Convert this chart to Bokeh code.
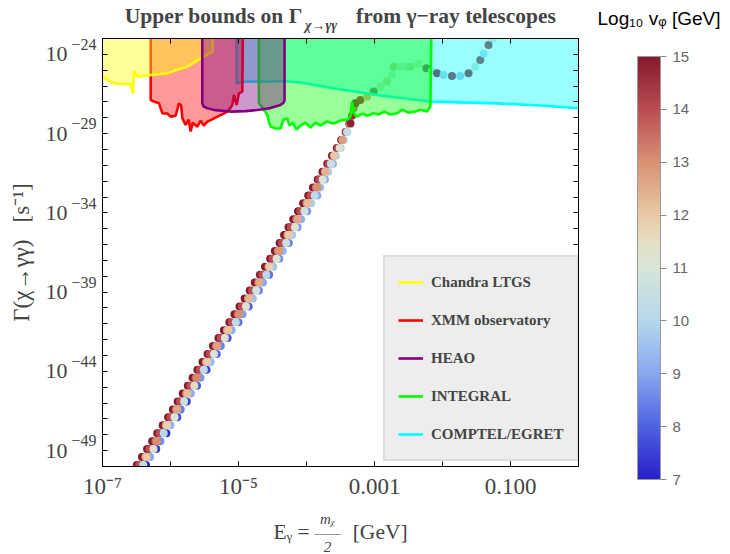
import numpy as np
from bokeh.plotting import figure
from bokeh.models import (ColumnDataSource, LinearColorMapper, FixedTicker, LogAxis, LinearAxis,
                          Range1d, LinearScale, Legend, LegendItem, CustomJSTickFormatter, ColorBar)
from bokeh.embed import file_html
from bokeh.resources import INLINE
from bokeh.transform import transform

# ---------------- data (log10 values) ----------------
# scan points: log10(E_gamma/GeV), log10(Gamma/s^-1), log10(v_phi/GeV)
y_fine = [-50.4, -49.9, -49.4, -48.9, -48.4, -47.9, -47.4, -46.9, -46.4, -45.9, -45.4, -44.9,
          -44.4, -43.9, -43.4, -42.9, -42.4, -41.9, -41.4, -40.9, -40.4, -39.9, -39.4, -38.9,
          -38.4, -37.9, -37.4, -36.9, -36.4, -35.9, -35.4, -34.9, -34.4, -33.9, -33.4, -32.9,
          -32.4, -31.9, -31.4, -30.9, -30.4, -29.9, -29.4, -28.9, -28.4]
y_even = [-50.4, -49.4, -48.4, -47.4, -46.4, -45.4, -44.4, -43.4, -42.4, -41.4, -40.4, -39.4,
          -38.4, -37.4, -36.4, -35.4, -34.4, -33.4, -32.4, -31.4, -30.4, -29.4, -28.4]
y_odd = [-49.9, -48.9, -47.9, -46.9, -45.9, -44.9, -43.9, -42.9, -41.9, -40.9, -39.9, -38.9,
         -37.9, -36.9, -35.9, -34.9, -33.9, -32.9, -31.9, -30.9, -29.9, -28.9]

v15_logE = [-6.57, -6.495, -6.42, -6.345, -6.27, -6.195, -6.115, -6.035, -5.965, -5.895, -5.82,
            -5.745, -5.675, -5.605, -5.53, -5.455, -5.375, -5.295, -5.215, -5.135, -5.06, -4.985,
            -4.91, -4.835, -4.76, -4.685, -4.61, -4.535, -4.465, -4.395, -4.33, -4.265, -4.195,
            -4.125, -4.05, -3.975, -3.905, -3.835, -3.765, -3.695, -3.625, -3.555, -3.49, -3.425, -3.37]
grpA_logE = [-6.46, -6.31, -6.16, -6.00, -5.86, -5.71, -5.57, -5.42, -5.26, -5.10, -4.95, -4.80,
             -4.65, -4.50, -4.36, -4.23, -4.09, -3.94, -3.81, -3.67, -3.54, -3.42]
grpS_logE = [-6.52, -6.37, -6.22, -6.07, -5.92, -5.77, -5.63, -5.48, -5.33, -5.17, -5.01, -4.86,
             -4.71, -4.56, -4.42, -4.28, -4.15, -4.00, -3.86, -3.73, -3.60, -3.47, -3.36]
grpB_logE = [-6.50, -6.35, -6.20, -6.05, -5.90, -5.75, -5.61, -5.46, -5.31, -5.15, -4.99, -4.84,
             -4.69, -4.54, -4.40, -4.26, -4.13, -3.98, -3.84, -3.72, -3.59, -3.47, -3.36]
grpC_logE = [-6.40, -6.25, -6.10, -5.94, -5.80, -5.65, -5.51, -5.36, -5.20, -5.04, -4.89, -4.74,
             -4.59, -4.44, -4.30, -4.17, -4.03, -3.88, -3.76, -3.64, -3.51, -3.40]
grpD_logE = [-6.45, -6.30, -6.15, -6.00, -5.85, -5.70, -5.56, -5.41, -5.26, -5.10, -4.94, -4.79,
             -4.64, -4.49, -4.35, -4.21, -4.08, -3.93, -3.80, -3.68, -3.57, -3.45, -3.35]
grpE_logE = [-6.36, -6.21, -6.06, -5.90, -5.76, -5.61, -5.47, -5.32, -5.16, -5.00, -4.85, -4.70,
             -4.55, -4.40, -4.26, -4.13, -3.99, -3.84, -3.73, -3.61, -3.50, -3.40]
grpA_v = [14.0] * 22
grpS_v = [13.3, 13.0, 13.5, 12.9, 13.4, 13.1, 13.6, 13.0, 13.3, 12.8, 13.5, 13.1, 13.4, 13.0,
          13.2, 12.9, 13.5, 13.1, 13.3, 13.0, 13.4, 13.2, 13.6]
grpB_v = [12.8, 12.0, 13.0, 11.8, 12.6, 12.2, 13.1, 11.9, 12.7, 12.1, 13.0, 12.3, 12.5, 11.8,
          12.9, 12.0, 12.6, 12.2, 13.0, 12.4, 12.0, 12.8, 12.3]
grpC_v = [10.4, 11.3, 10.0, 11.0, 10.6, 11.5, 10.2, 10.9, 11.2, 10.3, 11.4, 10.7, 10.1, 11.1,
          10.5, 11.3, 10.8, 10.2, 11.0, 10.6, 11.2, 10.4]
grpD_v = [8.2, 9.0, 8.6, 9.3, 8.4, 9.1, 8.8, 9.4, 8.5, 9.2, 8.9, 9.5, 9.0, 9.6, 9.3, 9.7, 9.2,
          9.8, 9.5, 9.9, 9.6, 10.0, 9.8]
grpE_v = [7.1, 7.4, 7.2, 7.7, 7.5, 7.9, 7.6, 8.1, 7.8, 8.3, 8.0, 8.5, 8.2, 8.7, 8.5, 8.9, 8.8,
          9.1, 9.0, 9.3, 9.2, 9.5]

top_logE = [-3.354, -3.33, -3.305, -3.28, -3.207, -3.109, -3.012, -2.913, -2.815, -2.742, -2.718,
            -2.62, -2.546, -2.473, -2.351, -2.238, -2.157, -2.081, -1.984, -1.861, -1.739, -1.617,
            -1.518, -1.445, -1.396, -1.323, -1.258, -1.22]
top_logG = [-28.35, -27.88, -27.40, -27.09, -26.88, -26.67, -26.35, -26.04, -25.72, -25.30, -24.78,
            -24.78, -24.78, -24.78, -24.61, -24.88, -25.05, -25.20, -25.30, -25.36, -25.36, -25.20,
            -24.78, -24.35, -23.94, -23.41, -22.99, -22.6]
top_v = [14.8, 14.5, 13.5, 14.8, 14.5, 12.5, 14.5, 11.5, 12.0, 11.0, 12.5, 11.5, 11.0, 12.0,
         11.5, 14.8, 10.5, 15.0, 9.8, 14.8, 9.5, 14.8, 10.5, 14.5, 10.0, 14.5, 11.0, 15.0]

# telescope bounds: boundary curves (log10 E, log10 Gamma); regions lie above them
chandra_logE = [-7.0, -6.907, -6.83, -6.731, -6.584, -6.555, -6.533, -6.486, -6.291, -6.046,
                -5.894, -5.752, -5.557, -5.38, -5.38]
chandra_logG = [-25.41, -25.66, -25.83, -25.87, -25.87, -26.46, -25.05, -25.41, -25.30, -25.20,
                -24.96, -24.78, -24.25, -23.83, -20.0]
xmm_logE = [-6.291, -6.291, -6.242, -6.169, -6.119, -6.046, -5.997, -5.924, -5.875, -5.843,
            -5.825, -5.777, -5.733, -5.703, -5.674, -5.605, -5.557, -5.512, -5.458, -5.395,
            -5.311, -5.248, -5.164, -5.116, -5.091, -5.068, -5.028, -4.994, -4.944, -4.930]
xmm_logG = [-20.0, -26.88, -26.98, -27.09, -27.72, -27.74, -27.93, -27.87, -27.09, -27.23,
            -28.04, -28.45, -28.12, -28.87, -28.31, -28.56, -28.18, -28.50, -28.24, -28.12,
            -27.93, -27.80, -27.61, -27.36, -27.19, -26.56, -27.19, -26.46, -26.35, -20.0]
heao_logE = [-5.532, -5.532, -5.512, -5.458, -5.336, -5.116, -4.896, -4.724, -4.529, -4.382,
             -4.338, -4.323, -4.323]
heao_logG = [-20.0, -27.09, -27.30, -27.40, -27.52, -27.61, -27.58, -27.51, -27.39, -27.19,
             -27.05, -26.88, -20.0]
integral_logE = [-4.700, -4.700, -4.675, -4.627, -4.577, -4.554, -4.529, -4.455, -4.382, -4.338,
                 -4.283, -4.250, -4.206, -4.147, -4.088, -4.015, -3.941, -3.868, -3.795, -3.706,
                 -3.604, -3.501, -3.398, -3.354, -3.329, -3.303, -3.256, -3.178, -3.104, -3.012,
                 -2.943, -2.855, -2.767, -2.668, -2.590, -2.502, -2.399, -2.326, -2.228, -2.179, -2.154]
integral_logG = [-20.0, -27.09, -27.19, -27.49, -27.82, -28.24, -28.56, -28.68, -28.67, -28.12,
                 -28.04, -28.50, -28.31, -28.75, -28.50, -28.31, -28.62, -28.31, -28.50, -28.24,
                 -28.37, -28.18, -28.12, -27.93, -26.98, -27.74, -27.93, -27.74, -27.87, -27.72,
                 -27.80, -27.61, -27.80, -27.72, -27.49, -27.68, -27.61, -27.49, -27.61, -27.30, -20.0]
comptel_logE = [-5.028, -5.028, -4.925, -4.577, -4.338, -4.088, -3.604, -2.913, -2.179, -1.200,
                -0.564, 0.0, 0.1]
comptel_logG = [-20.0, -25.83, -25.72, -25.72, -25.68, -25.78, -26.14, -26.60, -26.98, -27.09,
                -27.23, -27.40, -27.45]

telescope_names = ["Chandra LTGS", "XMM observatory", "HEAO", "INTEGRAL", "COMPTEL/EGRET"]

# tick labels
x_label_exps = [-7, -5, -3, -1]
x_label_text = ["10\u207b\u2077", "10\u207b\u2075", "0.001", "0.100"]
y_tick_exps = [-24, -29, -34, -39, -44, -49]
cbar_ticks = [7, 8, 9, 10, 11, 12, 13, 14, 15]

NB = "\u00a0"
title_text = "Upper bounds on \u0393" + NB * 10 + "from \u03b3\u2212ray telescopes"
title_sub = "\u03c7\u2192\u03b3\u03b3"
x_title = "E\u1d67 =" + NB * 8 + "[GeV]"
x_title_frac = "m\u1d6a\n\u2014\u2014\n2"
y_title = "\u0393(\u03c7\u2192\u03b3\u03b3)" + NB * 3 + "[s\u207b\u00b9]"
cbar_title = "Log\u2081\u2080 v\u1d69 [GeV]\n" + NB

# horizontal anchors (log10 E) of the subscript of the title and of the fraction
TITLE_SUB_AT = -3.787
FRAC_AT = -3.691

# ---------------- styling ----------------
SERIF = "Liberation Serif"
SANS = "Liberation Sans"


def build_palette(stops, n=256):
    vals = np.array([s[0] for s in stops], float)
    cols = np.array([[int(c[i:i + 2], 16) for i in (1, 3, 5)] for _, c in stops], float)
    t = np.linspace(vals[0], vals[-1], n)
    ch = [np.interp(t, vals, cols[:, k]) for k in range(3)]
    return ["#%02x%02x%02x" % (int(round(a)), int(round(b)), int(round(c))) for a, b, c in zip(*ch)]


palette = build_palette([(7, "#2a1fc9"), (8, "#4f63e0"), (9, "#87a8f0"), (10, "#b5d8ea"),
                         (11, "#d8e5da"), (11.5, "#e4dfc5"), (12, "#e8caa4"), (13, "#d99274"),
                         (14, "#bb4d53"), (15, "#86192c")])
mapper = LinearColorMapper(palette=palette, low=7, high=15)

p = figure(x_axis_type="log", y_axis_type="log", x_range=(1e-7, 1.0), y_range=(1e-50, 1e-23),
           frame_width=476, frame_height=428, min_border_left=102, min_border_right=150,
           min_border_top=37, min_border_bottom=87, output_backend="svg",
           toolbar_location=None, title=None)
p.xgrid.visible = False
p.ygrid.visible = False
p.outline_line_color = "black"
p.outline_line_width = 1
p.background_fill_color = "white"
p.border_fill_color = "white"

x_decades = [10.0 ** k for k in range(-7, 1)]
y_decades = [10.0 ** k for k in range(-50, -22)]
blank = CustomJSTickFormatter(code="return ''")


def const_fmt(text):
    return CustomJSTickFormatter(args=dict(t=text), code="return t")


def tick_style(ax):
    ax.major_tick_in = 5
    ax.major_tick_out = 0
    ax.minor_tick_in = 5
    ax.minor_tick_out = 0
    ax.major_tick_line_color = "black"
    ax.minor_tick_line_color = "black"
    ax.axis_line_color = "black"


def hide_lines(ax):
    ax.axis_line_color = None
    ax.major_tick_line_color = None
    ax.minor_tick_line_color = None


# ---- bottom: tick labels + axis title, then the fraction m_chi / 2
xb = p.xaxis[0]
xb.ticker = FixedTicker(ticks=[10.0 ** e for e in x_label_exps], minor_ticks=x_decades)
xb.formatter = CustomJSTickFormatter(args=dict(exps=x_label_exps, texts=x_label_text), code="""
    const e = Math.round(Math.log10(tick));
    const i = exps.indexOf(e);
    return i >= 0 ? texts[i] : '';
""")
tick_style(xb)
xb.major_label_standoff = 7
xb.major_label_text_font = SERIF
xb.major_label_text_font_size = "23px"
xb.axis_label = x_title
xb.axis_label_text_font = SERIF
xb.axis_label_text_font_size = "21.5px"
xb.axis_label_text_font_style = "normal"
xb.axis_label_standoff = 18

xfrac = LogAxis(ticker=FixedTicker(ticks=[10.0 ** FRAC_AT]), formatter=const_fmt(x_title_frac))
hide_lines(xfrac)
xfrac.major_label_standoff = -42
xfrac.major_label_text_font = SERIF
xfrac.major_label_text_font_size = "15px"
xfrac.major_label_text_font_style = "italic"
xfrac.major_label_text_line_height = 0.9
p.add_layout(xfrac, "below")

# ---- left: inner axis carries the decade ticks and the exponents, outer axis the "10"s
EXP_SHIFT = 0.61
yl = p.yaxis[0]
yl.ticker = FixedTicker(ticks=[10.0 ** (e + EXP_SHIFT) for e in y_tick_exps], minor_ticks=y_decades)
yl.formatter = CustomJSTickFormatter(args=dict(shift=EXP_SHIFT), code="""
    const e = Math.round(Math.log10(tick) - shift);
    return '\\u2212' + String(-e);
""")
tick_style(yl)
yl.major_tick_line_color = None
yl.major_label_standoff = 6
yl.major_label_text_font = SERIF
yl.major_label_text_font_size = "16px"

y10 = LogAxis(ticker=FixedTicker(ticks=[10.0 ** e for e in y_tick_exps]), formatter=const_fmt("10"))
hide_lines(y10)
y10.major_label_standoff = -5
y10.major_label_text_font = SERIF
y10.major_label_text_font_size = "22px"
y10.axis_label = y_title
y10.axis_label_text_font = SERIF
y10.axis_label_text_font_size = "23px"
y10.axis_label_text_font_style = "normal"
y10.axis_label_standoff = 9
p.add_layout(y10, "left")

# ---- top: decade ticks, subscript of the title as tick label, title as axis label
ax_top = LogAxis(ticker=FixedTicker(ticks=[10.0 ** TITLE_SUB_AT], minor_ticks=x_decades),
                 formatter=const_fmt(title_sub))
tick_style(ax_top)
ax_top.major_tick_line_color = None
ax_top.major_label_standoff = 6
ax_top.major_label_text_font = SERIF
ax_top.major_label_text_font_size = "14px"
ax_top.major_label_text_font_style = "bold italic"
ax_top.axis_label = title_text
ax_top.axis_label_text_font = SERIF
ax_top.axis_label_text_font_size = "21.5px"
ax_top.axis_label_text_font_style = "bold"
ax_top.axis_label_standoff = -13
p.add_layout(ax_top, "above")

# ---- right: decade ticks, colour bar, colour-bar title
ax_right = LogAxis(ticker=FixedTicker(ticks=y_decades), formatter=blank)
tick_style(ax_right)
ax_right.major_label_standoff = 0
ax_right.major_label_text_font_size = "1px"
p.add_layout(ax_right, "right")

cbar = ColorBar(color_mapper=mapper, ticker=FixedTicker(ticks=cbar_ticks), width=23, height=423,
                location=(59, -13), padding=0, margin=0, label_standoff=6,
                major_label_text_font=SANS, major_label_text_font_size="15px",
                major_label_text_color="#666666", major_tick_line_color="#888888",
                major_tick_in=0, major_tick_out=6, minor_tick_line_color=None,
                bar_line_color="#9a9a9a", border_line_color=None, background_fill_color=None)
p.add_layout(cbar, "right")

p.extra_y_ranges = {"cbt": Range1d(0, 1)}
p.extra_y_scales = {"cbt": LinearScale()}
cbt = LinearAxis(y_range_name="cbt", ticker=FixedTicker(ticks=[0.9999]), formatter=const_fmt(cbar_title))
hide_lines(cbt)
cbt.major_label_standoff = -101
cbt.major_label_text_font = SANS
cbt.major_label_text_font_size = "19px"
cbt.major_label_text_color = "black"
cbt.major_label_text_line_height = 1.9
p.add_layout(cbt, "right")

# ---------------- marks ----------------
bx = np.concatenate([v15_logE, grpA_logE, grpS_logE, grpE_logE, grpD_logE, grpB_logE,
                     grpC_logE, top_logE])
by = np.concatenate([y_fine, y_odd, y_even, y_odd, y_even, y_even, y_odd, top_logG])
bv = np.concatenate([[15.0] * len(v15_logE), grpA_v, grpS_v, grpE_v, grpD_v, grpB_v, grpC_v,
                     top_v])
src = ColumnDataSource(dict(x=10.0 ** bx, y=10.0 ** by, v=bv))
p.scatter("x", "y", source=src, size=8, marker="circle",
          fill_color=transform("v", mapper), line_color=None)

regions = {
    "COMPTEL/EGRET": (comptel_logE, comptel_logG, "#00ffff"),
    "INTEGRAL": (integral_logE, integral_logG, "#00ff00"),
    "XMM observatory": (xmm_logE, xmm_logG, "#ff0000"),
    "Chandra LTGS": (chandra_logE, chandra_logG, "#ffff00"),
    "HEAO": (heao_logE, heao_logG, "#800080"),
}
line_r = {}
for name, (le, lg, col) in regions.items():
    px_ = le + [le[-1], le[0]]
    py_ = lg + [-20.0, -20.0]
    p.patch(10.0 ** np.array(px_), 10.0 ** np.array(py_), fill_color=col, fill_alpha=0.4,
            line_color=None)
    line_r[name] = p.line(10.0 ** np.array(le), 10.0 ** np.array(lg), line_color=col,
                          line_width=2.6)

legend = Legend(items=[LegendItem(label=n, renderers=[line_r[n]]) for n in telescope_names],
                location=(281, 5), background_fill_color="#ededed", background_fill_alpha=1,
                border_line_color="#cdcdcd", border_line_width=2,
                label_text_font=SERIF, label_text_font_style="bold", label_text_font_size="15px",
                glyph_width=25, glyph_height=24, label_height=24, spacing=14, padding=13,
                margin=0, label_standoff=8)
p.add_layout(legend)

open("out.html", "w").write(file_html(p, INLINE))
